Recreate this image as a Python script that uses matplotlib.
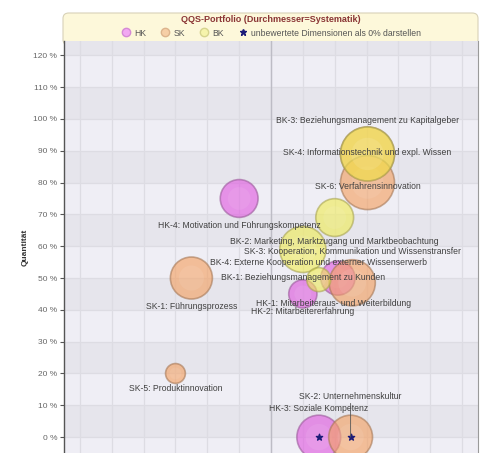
import numpy as np
import matplotlib
matplotlib.use("Agg")
import matplotlib.pyplot as plt
from matplotlib.patches import FancyBboxPatch
from matplotlib.lines import Line2D

plt.rcParams['font.family'] = ['Liberation Sans', 'DejaVu Sans']

# --- data ---------------------------------------------------------------
hk_names = ['HK-1: Mitarbeiteraus- und Weiterbildung', 'HK-2: Mitarbeitererfahrung',
            'HK-3: Soziale Kompetenz', 'HK-4: Motivation und Führungskompetenz']
hk_quali = [81, 70, 75, 50]
hk_quanti = [50, 45, 0, 75]
hk_syst = [57, 47, 73, 63]
hk_unrated = [False, False, True, False]

sk_names = ['SK-1: Führungsprozess', 'SK-2: Unternehmenskultur',
            'SK-3: Kooperation, Kommunikation und Wissenstransfer',
            'SK-4: Informationstechnik und expl. Wissen', 'SK-5: Produktinnovation',
            'SK-6: Verfahrensinnovation']
sk_quali = [35, 85, 85.5, 90.3, 30, 90.3]
sk_quanti = [50, 0, 48.5, 89, 20, 80]
sk_syst = [70, 73, 77, 90, 33, 90]
sk_unrated = [False, True, False, False, False, False]

bk_names = ['BK-1: Beziehungsmanagement zu Kunden',
            'BK-2: Marketing, Marktzugang und Marktbeobachtung',
            'BK-3: Beziehungsmanagement zu Kapitalgeber',
            'BK-4: Externe Kooperation und externer Wissenserwerb']
bk_quali = [70, 80, 90.3, 75]
bk_quanti = [59, 69, 89, 49.5]
bk_syst = [77, 63, 90, 40]
bk_unrated = [False, False, False, False]

y_ticks = list(range(0, 130, 10))

# label offsets in pixels (dx, dy down) so the labels do not pile up
label_off = {'HK-1': (-4, 25), 'HK-2': (0, 18), 'HK-3': (0, -29), 'HK-4': (0, 27),
             'SK-1': (0, 28), 'SK-2': (0, -41), 'SK-3': (0, -31), 'SK-4': (0, -1),
             'SK-5': (0, 15), 'SK-6': (0, 4),
             'BK-1': (0, 28), 'BK-2': (0, 24), 'BK-3': (0, -33), 'BK-4': (0, -17)}

series = [
    ('HK', hk_names, hk_quali, hk_quanti, hk_syst, hk_unrated, '#e060e0', '#a060a0', 0.65),
    ('SK', sk_names, sk_quali, sk_quanti, sk_syst, sk_unrated, '#f4a060', '#a87a58', 0.62),
    ('BK', bk_names, bk_quali, bk_quanti, bk_syst, bk_unrated, '#f0ec50', '#a8a450', 0.6),
]

# --- figure -------------------------------------------------------------
W, H = 483, 453
fig = plt.figure(figsize=(W / 100, H / 100), dpi=100)
fig.patch.set_facecolor('white')

ax = fig.add_axes([64 / W, 0, 414 / W, 1 - 41 / H])
ax.set_facecolor('#efeef5')
ax.set_xlim(-5, 125)
ax.set_ylim(-5, 124.5)

for lo in range(0, 130, 20):
    ax.axhspan(lo, lo + 10, color='#e6e5ec', zorder=0, lw=0)
for v in range(0, 130, 10):
    ax.axhline(v, color='#dddce3', lw=0.9, zorder=0.5)
    ax.axvline(v, color='#dddce3', lw=0.9, zorder=0.5)
ax.axvline(60, color='#bdbcc5', lw=1.0, zorder=0.6)

ax.set_yticks(y_ticks)
ax.set_yticklabels([f'{v} %' for v in y_ticks], fontsize=6, color='#666666')
ax.set_xticks([])
ax.tick_params(axis='y', length=3, width=0.8, color='#555555', pad=2)
ax.set_ylabel('Quantität', fontsize=6, fontweight='bold', color='#333333', labelpad=3)
for s in ('top', 'bottom'):
    ax.spines[s].set_visible(False)
ax.spines['left'].set_color('#555555')
ax.spines['left'].set_linewidth(1.0)
ax.spines['right'].set_color('#9a9a9a')
ax.spines['right'].set_linewidth(0.8)

px2pt = 72 / 100
for i, (code, names, qx, qy, syst, unrated, fc, ec, a) in enumerate(series):
    d_pt = np.array(syst) * 0.6 * px2pt
    ax.scatter(qx, qy, s=d_pt ** 2, facecolor=fc, edgecolor=ec, linewidth=1.2,
               alpha=a, zorder=2 + i)
    # soft highlight in the middle of every bubble
    ax.scatter(qx, qy, s=(d_pt * 0.6) ** 2, facecolor='white', edgecolor='none',
               alpha=0.08, zorder=2 + i)
    for name, x, y, u in zip(names, qx, qy, unrated):
        key = name.split(':')[0]
        dx, dy = label_off[key]
        arrow = dict(arrowstyle='-', color='#555555', lw=0.6, shrinkA=0, shrinkB=0) \
            if key == 'SK-2' else None
        ax.annotate(name, (x, y), xytext=(dx * px2pt, -dy * px2pt),
                    textcoords='offset points', ha='center', va='center',
                    fontsize=6.2, color='#404040', zorder=10, arrowprops=arrow)
        if u:
            ax.scatter([x], [y], marker='*', s=22, color='#1c1c78', zorder=9)

# --- header with title and legend ----------------------------------------
box = FancyBboxPatch((63 / W, 1 - 45 / H), 415 / W, 32 / H,
                     boxstyle='round,pad=0,rounding_size=0.012',
                     transform=fig.transFigure, facecolor='#fdf8da',
                     edgecolor='#d8d2b8', lw=0.8, zorder=-1)
fig.patches.append(box)
fig.text(270.5 / W, 1 - 19 / H, 'QQS-Portfolio (Durchmesser=Systematik)',
         ha='center', va='center', fontsize=6.5, fontweight='bold', color='#8a3535')

handles = [
    Line2D([], [], ls='none', marker='o', ms=6, mfc='#f2a8f2', mec='#d58ad5', label='HK'),
    Line2D([], [], ls='none', marker='o', ms=6, mfc='#f6cfa6', mec='#dcb48c', label='SK'),
    Line2D([], [], ls='none', marker='o', ms=6, mfc='#f6f4ac', mec='#d6d48e', label='BK'),
    Line2D([], [], ls='none', marker='*', ms=5, mfc='#1c1c78', mec='#1c1c78',
           label='unbewertete Dimensionen als 0% darstellen'),
]
fig.legend(handles=handles, loc='center', bbox_to_anchor=(271 / W, 1 - 33 / H),
           ncol=4, frameon=False, fontsize=6.2, handletextpad=0.35,
           columnspacing=1.6, handlelength=1.2, labelcolor='#555555')

fig.savefig('out.png', dpi=100)
